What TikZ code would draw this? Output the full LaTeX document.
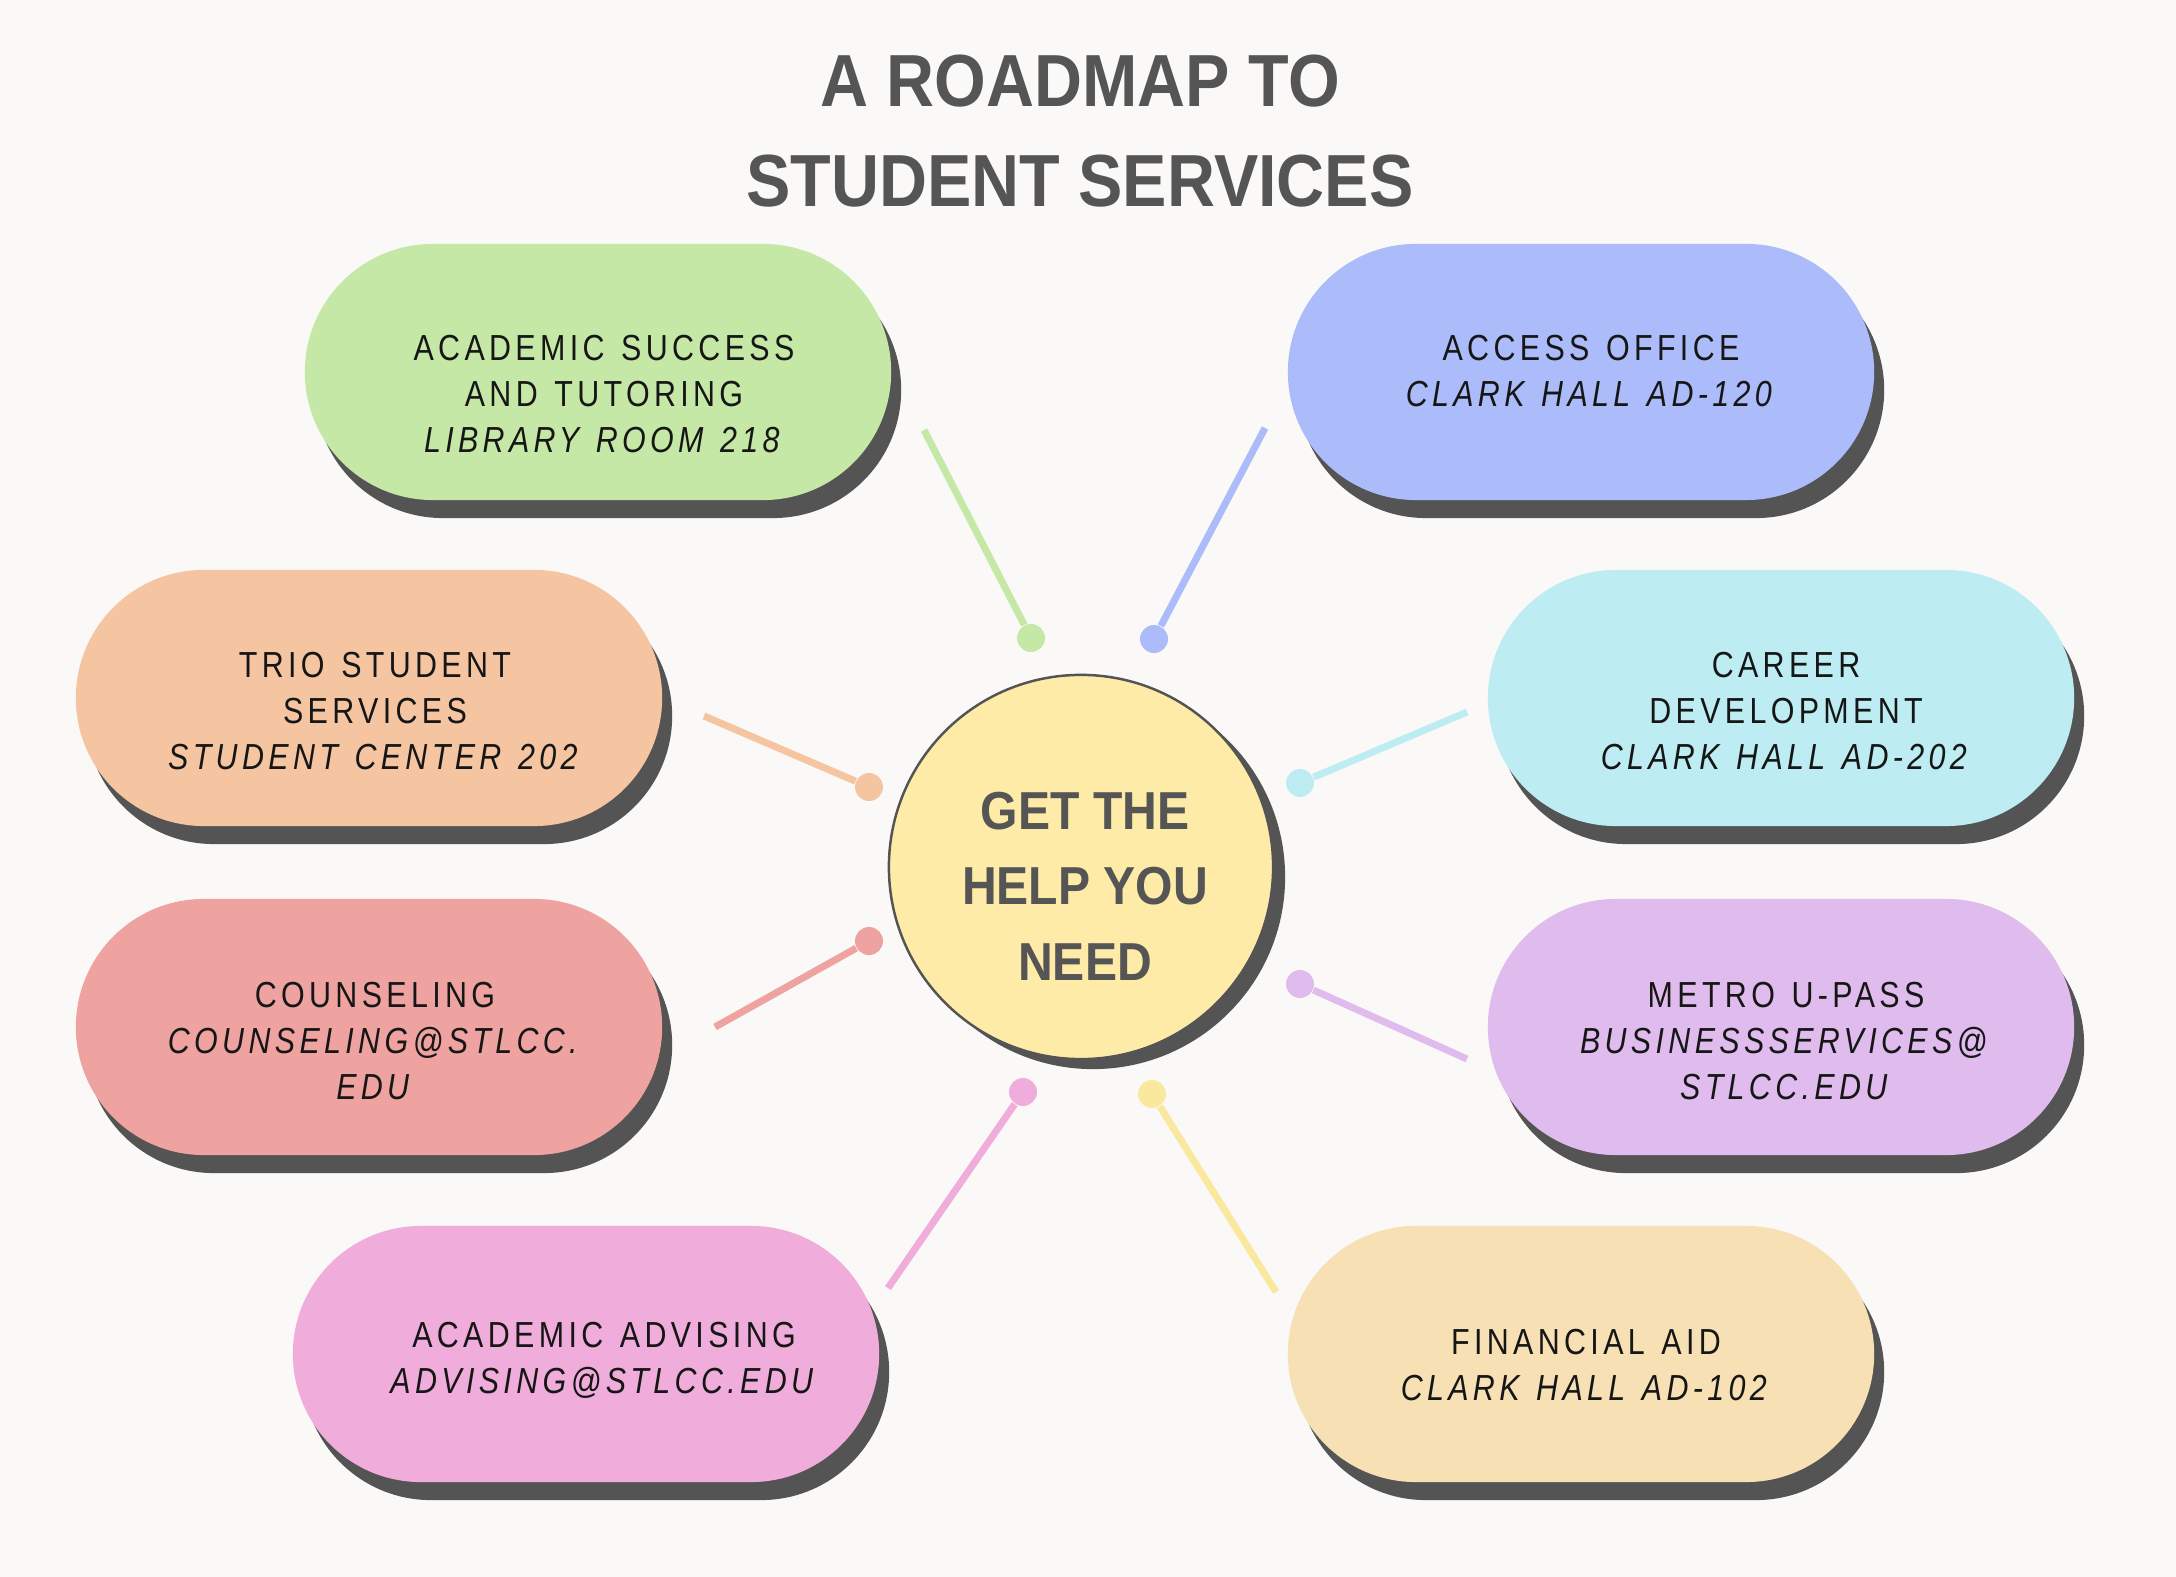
\documentclass[tikz,border=0pt]{standalone}
\usepackage{xcolor}
\usepackage{fontspec}
\setmainfont{Liberation Sans}
\newfontfamily\headfont[FakeStretch=0.9]{Liberation Sans}
\newfontfamily\pillfont[FakeStretch=0.84,LetterSpace=12,WordSpace=1.3]{Liberation Sans}
\usetikzlibrary{shapes.misc,shadows}
\definecolor{paperwhite}{RGB}{250, 249, 247}
\definecolor{shadowgray}{RGB}{84, 84, 84}
\definecolor{titlegray}{RGB}{85, 85, 85}
\definecolor{inkblack}{RGB}{22, 22, 22}
\definecolor{tutorgreen}{RGB}{197, 232, 167}
\definecolor{accessblue}{RGB}{172, 187, 249}
\definecolor{triopeach}{RGB}{245, 196, 161}
\definecolor{careercyan}{RGB}{189, 237, 242}
\definecolor{counselred}{RGB}{239, 163, 161}
\definecolor{metropurple}{RGB}{223, 187, 238}
\definecolor{advisepink}{RGB}{240, 173, 219}
\definecolor{aidsand}{RGB}{248, 224, 181}
\definecolor{hubyellow}{RGB}{253, 235, 167}
\definecolor{aidline}{RGB}{251, 232, 159}
\tikzset{
  pill/.style={rounded rectangle, minimum width=5.86cm, minimum height=2.56cm, inner sep=0pt,
    drop shadow={shadow xshift=0.1cm, shadow yshift=-0.18cm, fill=shadowgray, opacity=1}},
  pilltext/.style={align=center, inner sep=0pt, text=inkblack, font=\pillfont\fontsize{10.3}{13}\selectfont},
  hub/.style={circle, minimum size=3.84cm, inner sep=0pt, fill=hubyellow, draw=shadowgray, line width=0.7pt,
    drop shadow={shadow xshift=0.12cm, shadow yshift=-0.1cm, fill=shadowgray, opacity=1}},
  hubtext/.style={align=center, inner sep=0pt, text=titlegray, font=\headfont\bfseries\fontsize{15.2}{21.5}\selectfont},
  pindot/.style={circle, minimum size=0.28cm, inner sep=0pt},
  link/.style={line width=2pt},
}
\begin{document}
\begin{tikzpicture}[x=0.01cm, y=-0.01cm]
% Page background
\fill[paperwhite] (0,0) rectangle (2176,1577);
\useasboundingbox (0,0) rectangle (2176,1577);

% Title
\node[align=center, inner sep=0pt, text=titlegray, font=\headfont\bfseries\fontsize{21}{28.4}\selectfont] (title) at (1080,131) {A ROADMAP TO\\STUDENT SERVICES};

% Connectors from the services to the hub
\coordinate (succend) at (924,430);
\coordinate (accessend) at (1265,428);
\coordinate (trioend) at (704,716);
\coordinate (careerend) at (1467,712);
\coordinate (counselend) at (715,1027);
\coordinate (metroend) at (1467,1059);
\coordinate (adviseend) at (888,1288);
\coordinate (aidend) at (1276,1292);
\node[pindot, fill=tutorgreen] (succdot) at (1031,638) {};
\node[pindot, fill=accessblue] (accessdot) at (1154,639) {};
\node[pindot, fill=triopeach] (triodot) at (869,787) {};
\node[pindot, fill=careercyan] (careerdot) at (1300,783) {};
\node[pindot, fill=counselred] (counseldot) at (869,941) {};
\node[pindot, fill=metropurple] (metrodot) at (1300,984) {};
\node[pindot, fill=advisepink] (advisedot) at (1023,1092) {};
\node[pindot, fill=aidline] (aiddot) at (1152,1094) {};
\draw[link, tutorgreen] (succend) -- (succdot);
\draw[link, accessblue] (accessend) -- (accessdot);
\draw[link, triopeach] (trioend) -- (triodot);
\draw[link, careercyan] (careerend) -- (careerdot);
\draw[link, counselred] (counselend) -- (counseldot);
\draw[link, metropurple] (metroend) -- (metrodot);
\draw[link, advisepink] (adviseend) -- (advisedot);
\draw[link, aidline] (aidend) -- (aiddot);

% Hub
\node[hub] (hub) at (1081,867) {};
\node[hubtext] (hubtxt) at (1085,886) {GET THE\\HELP YOU\\NEED};

% Service pills
\node[pill, fill=tutorgreen] (succ) at (598,372) {};
\node[pill, fill=accessblue] (access) at (1581,372) {};
\node[pill, fill=triopeach] (trio) at (369,698) {};
\node[pill, fill=careercyan] (career) at (1781,698) {};
\node[pill, fill=counselred] (counsel) at (369,1027) {};
\node[pill, fill=metropurple] (metro) at (1781,1027) {};
\node[pill, fill=advisepink] (advise) at (586,1354) {};
\node[pill, fill=aidsand] (aid) at (1581,1354) {};

% Pill labels
\node[pilltext] (succtxt) at (604,394) {ACADEMIC SUCCESS\\AND TUTORING\\\textit{LIBRARY ROOM 218}};
\node[pilltext] (accesstxt) at (1591,371) {ACCESS OFFICE\\\textit{CLARK HALL AD-120}};
\node[pilltext] (triotxt) at (375,711) {TRIO STUDENT\\SERVICES\\\textit{STUDENT CENTER 202}};
\node[pilltext] (careertxt) at (1786,711) {CAREER\\DEVELOPMENT\\\textit{CLARK HALL AD-202}};
\node[pilltext] (counseltxt) at (375,1041) {COUNSELING\\\textit{COUNSELING@STLCC.}\\\textit{EDU}};
\node[pilltext] (metrotxt) at (1786,1041) {METRO U-PASS\\\textit{BUSINESSSERVICES@}\\\textit{STLCC.EDU}};
\node[pilltext] (advisetxt) at (604,1360) {ACADEMIC ADVISING\\\textit{ADVISING@STLCC.EDU}};
\node[pilltext] (aidtxt) at (1586,1365) {FINANCIAL AID\\\textit{CLARK HALL AD-102}};
\end{tikzpicture}
\end{document}
